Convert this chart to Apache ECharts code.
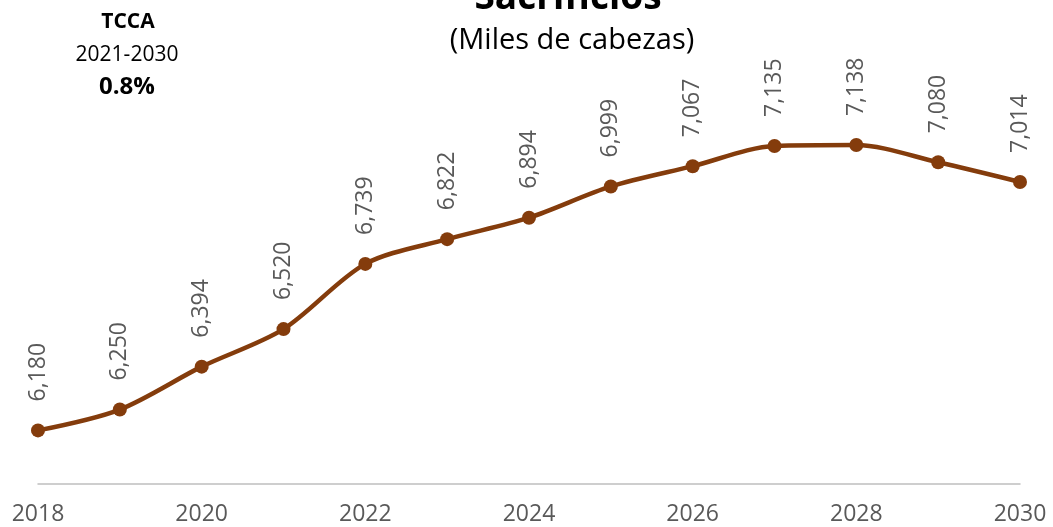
<!DOCTYPE html>
<html><head><meta charset="utf-8">
<script src="https://cdn.jsdelivr.net/npm/echarts@6/dist/echarts.min.js"></script>
<style>html,body{margin:0;padding:0;background:#fff}#c{width:1053px;height:527px}</style>
</head><body><div id="c"></div>
<script>
const categories = ['2018','2019','2020','2021','2022','2023','2024','2025','2026','2027','2028','2029','2030'];
const values = [6180, 6250, 6394, 6520, 6739, 6822, 6894, 6999, 7067, 7135, 7138, 7080, 7014];
const titleText = 'Sacrificios';
const subtitleText = '(Miles de cabezas)';
const noteLines = ['TCCA', '2021-2030', '0.8%'];

const chart = echarts.init(document.getElementById('c'));
chart.setOption({
  animation: false,
  backgroundColor: '#fff',
  title: [
    {text: titleText, left: 563, textAlign: 'center', top: -25,
     textStyle: {fontFamily: 'Open Sans', fontWeight: 'bold', fontSize: 37, color: '#000'}},
    {text: subtitleText, left: 567, textAlign: 'center', top: 21,
     textStyle: {fontFamily: 'Open Sans', fontWeight: 'normal', fontSize: 29, color: '#000'}}
  ],
  graphic: [
    {type: 'text', x: 128, y: 22, style: {text: noteLines[0], align: 'center', verticalAlign: 'middle', fontFamily: 'Open Sans', fontWeight: 'bold', fontSize: 21, fill: '#000'}},
    {type: 'text', x: 127, y: 55, style: {text: noteLines[1], align: 'center', verticalAlign: 'middle', fontFamily: 'Open Sans', fontWeight: 'normal', fontSize: 21, fill: '#000'}},
    {type: 'text', x: 127, y: 87, style: {text: noteLines[2], align: 'center', verticalAlign: 'middle', fontFamily: 'Open Sans', fontWeight: 'bold', fontSize: 24, fill: '#000'}}
  ],
  grid: {left: 38, right: 33, top: 67, bottom: 43, containLabel: false},
  xAxis: {
    type: 'category', data: categories, boundaryGap: false,
    axisLine: {show: true, lineStyle: {color: '#bfbfbf', width: 1.5}},
    axisTick: {show: false},
    axisLabel: {interval: 1, color: '#595959', fontFamily: 'Open Sans', fontSize: 23, margin: 19}
  },
  yAxis: {
    type: 'value', min: 6000, max: 7400, show: false,
    splitLine: {show: false}
  },
  series: [{
    type: 'line', data: values, smooth: 0.3,
    symbol: 'circle', symbolSize: 14,
    lineStyle: {color: '#843C0C', width: 4.5},
    itemStyle: {color: '#843C0C'},
    label: {show: true, position: 'top', rotate: 90, align: 'left', verticalAlign: 'middle', distance: 22,
      color: '#595959', fontFamily: 'Open Sans', fontSize: 23,
      formatter: p => p.value.toLocaleString('en-US')}
  }]
});
</script></body></html>
